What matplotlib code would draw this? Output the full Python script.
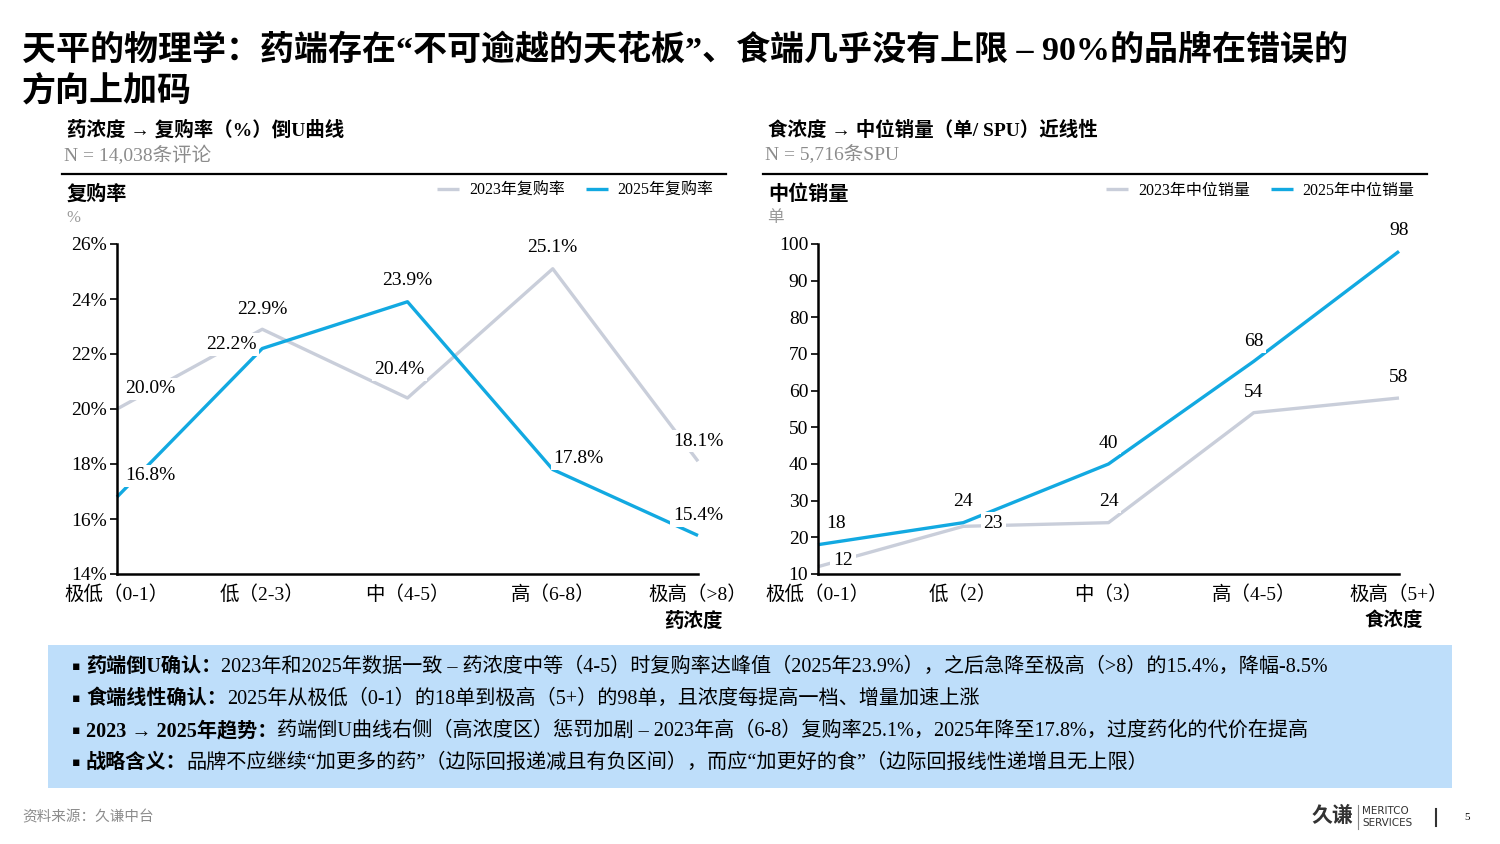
import matplotlib
matplotlib.use("Agg")
import matplotlib.pyplot as plt
from matplotlib.patches import Rectangle
from matplotlib.lines import Line2D

FONTS = ['Liberation Serif', 'Noto Sans CJK SC', 'DejaVu Sans']
plt.rcParams['font.family'] = FONTS

BLUE = '#12A9E1'
GREY = '#C9CEDA'

# left chart: drug concentration vs repurchase rate (%)
drug_levels = ['极低（0-1）', '低（2-3）', '中（4-5）', '高（6-8）', '极高（>8）']
rate_2023 = [20.0, 22.9, 20.4, 25.1, 18.1]
rate_2025 = [16.8, 22.2, 23.9, 17.8, 15.4]

# right chart: food concentration vs median sales (units / SPU)
food_levels = ['极低（0-1）', '低（2）', '中（3）', '高（4-5）', '极高（5+）']
sales_2023 = [12, 23, 24, 54, 58]
sales_2025 = [18, 24, 40, 68, 98]

bullets = [
    ('药端倒U确认：', '2023年和2025年数据一致 – 药浓度中等（4-5）时复购率达峰值（2025年23.9%），之后急降至极高（>8）的15.4%，降幅-8.5%'),
    ('食端线性确认：', '2025年从极低（0-1）的18单到极高（5+）的98单，且浓度每提高一档、增量加速上涨'),
    ('2023 → 2025年趋势：', '药端倒U曲线右侧（高浓度区）惩罚加剧 – 2023年高（6-8）复购率25.1%，2025年降至17.8%，过度药化的代价在提高'),
    ('战略含义：', '品牌不应继续“加更多的药”（边际回报递减且有负区间），而应“加更好的食”（边际回报线性递增且无上限）'),
]

W, H = 1500, 844
fig = plt.figure(figsize=(15, 8.44), dpi=100)


def fx(px):
    return px / W


def fy(py):
    return 1 - py / H


def px_axes(left, top, right, bottom):
    return fig.add_axes([fx(left), fy(bottom), (right - left) / W, (bottom - top) / H])


# title
fig.text(fx(22), fy(50), '天平的物理学：药端存在“不可逾越的天花板”、食端几乎没有上限 – 90%的品牌在错误的',
         fontsize=24.5, fontweight='bold', va='center', ha='left')
fig.text(fx(22), fy(92), '方向上加码', fontsize=24.5, fontweight='bold', va='center', ha='left')


def draw_panel(left, right, subtitle, ntext, ylab, unit, legend_names, cats, s23, s25,
               ylim, yticks, ytl, labels23, labels25, off23, off25, xname):
    top, bottom = 244, 574
    fig.text(fx(left - 50), fy(130), subtitle, fontsize=14, fontweight='bold', va='center')
    fig.text(fx(left - 53), fy(155), ntext, fontsize=14, color='#8C8C8C', va='center')
    fig.add_artist(Line2D([fx(left - 55), fx(right + 28)], [fy(174), fy(174)], color='black', lw=1.6))
    fig.text(fx(left - 50), fy(195), ylab, fontsize=14.5, fontweight='bold', va='center')
    fig.text(fx(left - 51), fy(218), unit, fontsize=12, color='#9A9A9A', va='center')

    ax = px_axes(left, top, right, bottom)
    x = list(range(len(cats)))
    l23, = ax.plot(x, s23, color=GREY, lw=2.4, clip_on=False, zorder=2, solid_capstyle='butt')
    l25, = ax.plot(x, s25, color=BLUE, lw=2.4, clip_on=False, zorder=3, solid_capstyle='butt')
    ax.set_xlim(0, len(cats) - 1)
    ax.set_ylim(*ylim)
    ax.set_yticks(yticks)
    ax.set_yticklabels(ytl, fontsize=14)
    ax.set_xticks(x)
    ax.set_xticklabels(cats, fontsize=14)
    ax.tick_params(axis='x', length=0, pad=8)
    ax.tick_params(axis='y', length=5, width=1.2, pad=2)
    for s in ('top', 'right'):
        ax.spines[s].set_visible(False)
    for s in ('left', 'bottom'):
        ax.spines[s].set_linewidth(1.8)
        ax.spines[s].set_zorder(5)

    for xi, yi, t, o in zip(x, s23, labels23, off23):
        ax.annotate(t, (xi, yi), xytext=o, textcoords='offset pixels', ha='center', va='center',
                    fontsize=14, zorder=6, annotation_clip=False,
                    bbox=dict(facecolor='white', edgecolor='none', pad=2))
    for xi, yi, t, o in zip(x, s25, labels25, off25):
        ax.annotate(t, (xi, yi), xytext=o, textcoords='offset pixels', ha='center', va='center',
                    fontsize=14, zorder=6, annotation_clip=False,
                    bbox=dict(facecolor='white', edgecolor='none', pad=2))

    fig.legend([l23, l25], legend_names, loc='center right',
               bbox_to_anchor=(fx(right + 30), fy(191)), ncol=2, frameon=False,
               fontsize=11.5, handlelength=1.4, handletextpad=0.6, columnspacing=1.3)
    fig.text(fx(right - 5), fy(621), xname, fontsize=14, fontweight='bold', va='center', ha='center')
    return ax


draw_panel(117, 698, '药浓度 → 复购率（%）倒U曲线', 'N = 14,038条评论', '复购率', '%',
           ['2023年复购率', '2025年复购率'], drug_levels, rate_2023, rate_2025,
           (14, 26), list(range(14, 27, 2)), [f'{v}%' for v in range(14, 27, 2)],
           [f'{v:.1f}%' for v in rate_2023], [f'{v:.1f}%' for v in rate_2025],
           [(33, 20), (0, 20), (-8, 28), (0, 21), (0, 20)],
           [(33, 21), (-31, 4), (0, 21), (26, 11), (0, 20)], '药浓度')

draw_panel(818, 1399, '食浓度 → 中位销量（单/ SPU）近线性', 'N = 5,716条SPU', '中位销量', '单',
           ['2023年中位销量', '2025年中位销量'], food_levels, sales_2023, sales_2025,
           (10, 100), list(range(10, 101, 10)), [str(v) for v in range(10, 101, 10)],
           [str(v) for v in sales_2023], [str(v) for v in sales_2025],
           [(25, 6), (30, 3), (0, 21), (0, 20), (0, 21)],
           [(18, 21), (0, 21), (0, 21), (0, 20), (0, 21)], '食浓度')

# summary box
fig.add_artist(Rectangle((fx(48), fy(788)), (1452 - 48) / W, (788 - 645) / H,
                         transform=fig.transFigure, facecolor='#BEDEFA', edgecolor='none', zorder=0))
renderer = fig.canvas.get_renderer()
for i, (head, body) in enumerate(bullets):
    y = fy(667 + 32 * i)
    fig.text(fx(72), y, '▪', fontsize=9, va='center', ha='left', family='DejaVu Sans')
    t = fig.text(fx(86), y, head, fontsize=14.5, fontweight='bold', va='center', ha='left')
    x1 = t.get_window_extent(renderer).x1
    fig.text(x1 / W, y, body, fontsize=14.5, va='center', ha='left')

# footer
fig.text(fx(22), fy(817), '资料来源：久谦中台', fontsize=10.5, color='#8C8C8C', va='center')
fig.text(fx(1312), fy(817), '久谦', fontsize=15, fontweight='bold', va='center', color='#333333')
fig.add_artist(Line2D([fx(1358), fx(1358)], [fy(805), fy(829)], color='#888888', lw=0.8))
fig.text(fx(1362), fy(811), 'MERITCO', fontsize=7.5, va='center', color='#333333', family='DejaVu Sans Condensed')
fig.text(fx(1362), fy(823), 'SERVICES', fontsize=7.5, va='center', color='#333333', family='DejaVu Sans Condensed')
fig.add_artist(Line2D([fx(1436), fx(1436)], [fy(809), fy(826)], color='#333333', lw=1.5))
fig.text(fx(1467), fy(817), '5', fontsize=8, va='center', ha='center')

fig.savefig('out.png', dpi=100)
